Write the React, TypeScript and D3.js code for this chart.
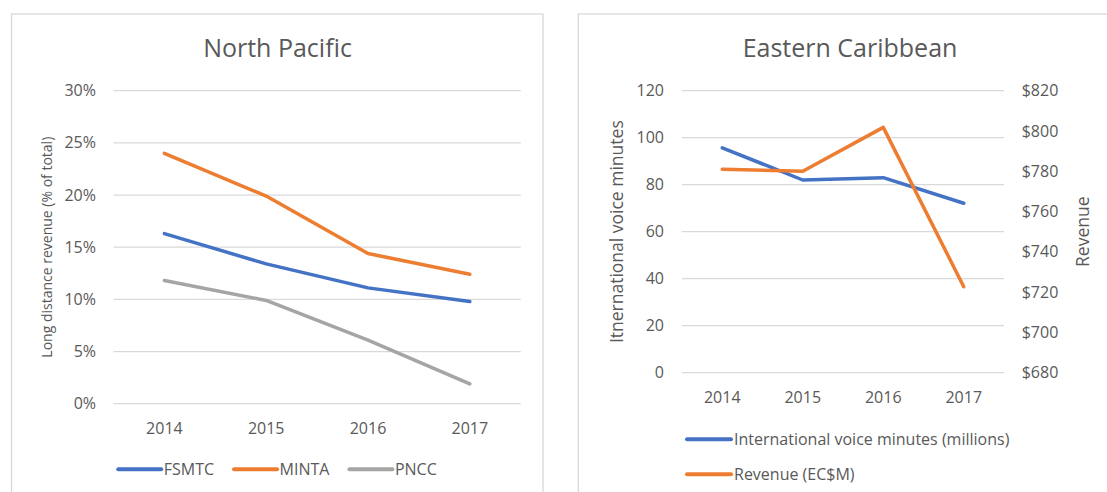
import React, { useEffect, useRef } from "react";
import * as d3 from "d3";

const years = ["2014", "2015", "2016", "2017"];

// North Pacific, long distance revenue as % of total
const fsmtc = [16.3, 13.4, 11.1, 9.8];
const minta = [24.0, 19.9, 14.4, 12.4];
const pncc = [11.8, 9.9, 6.1, 1.9];
const pctTicks = [0, 5, 10, 15, 20, 25, 30];

// Eastern Caribbean
const voiceMinutes = [95.7, 82.0, 83.0, 72.1];
const revenue = [781.0, 780.0, 801.8, 722.7];
const minuteTicks = [0, 20, 40, 60, 80, 100, 120];
const revenueTicks = [680, 700, 720, 740, 760, 780, 800, 820];

const BLUE = "#4472C4";
const ORANGE = "#ED7D31";
const GRAY = "#A5A5A5";
const TEXT = "#595959";
const GRID = "#D9D9D9";
const FONT = "'Open Sans', sans-serif";

export default function App() {
  const svgRef = useRef<SVGSVGElement>(null);

  useEffect(() => {
    document.body.style.margin = "0";
    const svg = d3.select(svgRef.current);
    svg.selectAll("*").remove();
    svg.attr("font-family", FONT);

    const styleAxis = (g: any) => {
      g.select(".domain").remove();
      g.selectAll("text").attr("fill", TEXT).attr("font-size", 16).attr("font-family", FONT);
    };

    // ---------- North Pacific ----------
    const left = svg.append("g");
    left.append("rect")
      .attr("x", 11.5).attr("y", 14).attr("width", 531.5).attr("height", 520)
      .attr("fill", "#fff").attr("stroke", GRID).attr("stroke-width", 1.3);

    left.append("text")
      .attr("x", 277.5).attr("y", 56.7)
      .attr("text-anchor", "middle").attr("font-size", 25).attr("fill", TEXT)
      .text("North Pacific");

    const x1 = d3.scaleBand().domain(years).range([113.5, 520.7]).padding(0);
    const y1 = d3.scaleLinear().domain([0, 30]).range([403.7, 90.7]);

    left.append("g").selectAll("line").data(pctTicks).join("line")
      .attr("x1", 113.5).attr("x2", 520.7)
      .attr("y1", d => y1(d)).attr("y2", d => y1(d))
      .attr("stroke", GRID).attr("stroke-width", 1.3);

    left.append("g")
      .attr("transform", "translate(113.5,0)")
      .call(d3.axisLeft(y1).tickValues(pctTicks).tickFormat(d => `${d}%`).tickSize(0).tickPadding(17.5))
      .call(styleAxis);

    left.append("g")
      .attr("transform", "translate(0,403.7)")
      .call(d3.axisBottom(x1).tickSize(0).tickPadding(19))
      .call(styleAxis);

    left.append("text")
      .attr("transform", "translate(52,247.2) rotate(-90)")
      .attr("text-anchor", "middle").attr("font-size", 14).attr("fill", TEXT)
      .text("Long distance revenue (% of total)");

    const line1 = d3.line<number>()
      .x((d, i) => x1(years[i])! + x1.bandwidth() / 2)
      .y(d => y1(d));

    const npSeries = [
      { name: "FSMTC", values: fsmtc, color: BLUE },
      { name: "MINTA", values: minta, color: ORANGE },
      { name: "PNCC", values: pncc, color: GRAY },
    ];

    npSeries.forEach(s => {
      left.append("path")
        .attr("d", line1(s.values))
        .attr("fill", "none").attr("stroke", s.color).attr("stroke-width", 3.5)
        .attr("stroke-linecap", "round").attr("stroke-linejoin", "round");
    });

    // legend, flowed then centered on the panel
    const leg1 = left.append("g");
    let cx = 0;
    npSeries.forEach(s => {
      const it = leg1.append("g").attr("transform", `translate(${cx},469.3)`);
      it.append("line").attr("x1", 0).attr("x2", 43).attr("y1", 0).attr("y2", 0)
        .attr("stroke", s.color).attr("stroke-width", 4).attr("stroke-linecap", "round");
      const t = it.append("text").attr("x", 45.5).attr("dy", "0.35em")
        .attr("font-size", 16).attr("fill", TEXT).text(s.name);
      const w = (t.node() as SVGTextElement).getComputedTextLength();
      cx += 45.5 + w + 20;
    });
    const legW = cx - 20;
    leg1.attr("transform", `translate(${277.5 - legW / 2},0)`);

    // ---------- Eastern Caribbean ----------
    const right = svg.append("g");
    right.append("rect")
      .attr("x", 578.3).attr("y", 14).attr("width", 600).attr("height", 520)
      .attr("fill", "#fff").attr("stroke", GRID).attr("stroke-width", 1.3);

    right.append("text")
      .attr("x", 850).attr("y", 56.7)
      .attr("text-anchor", "middle").attr("font-size", 25).attr("fill", TEXT)
      .text("Eastern Caribbean");

    const x2 = d3.scaleBand().domain(years).range([682, 1004]).padding(0);
    const y2 = d3.scaleLinear().domain([0, 120]).range([372.7, 90.7]);
    const y2r = d3.scaleLinear().domain([680, 820]).range([372.7, 90.7]);

    right.append("g").selectAll("line").data(minuteTicks).join("line")
      .attr("x1", 682).attr("x2", 1004)
      .attr("y1", d => y2(d)).attr("y2", d => y2(d))
      .attr("stroke", GRID).attr("stroke-width", 1.3);

    right.append("g")
      .attr("transform", "translate(682,0)")
      .call(d3.axisLeft(y2).tickValues(minuteTicks).tickSize(0).tickPadding(18))
      .call(styleAxis);

    right.append("g")
      .attr("transform", "translate(1004,0)")
      .call(d3.axisRight(y2r).tickValues(revenueTicks).tickFormat(d => `$${d}`).tickSize(0).tickPadding(17.7))
      .call(styleAxis);

    right.append("g")
      .attr("transform", "translate(0,372.7)")
      .call(d3.axisBottom(x2).tickSize(0).tickPadding(18.5))
      .call(styleAxis);

    right.append("text")
      .attr("transform", "translate(623,231.7) rotate(-90)")
      .attr("text-anchor", "middle").attr("font-size", 17.5).attr("fill", TEXT)
      .text("Itnernational voice minutes");

    right.append("text")
      .attr("transform", "translate(1089,231.7) rotate(-90)")
      .attr("text-anchor", "middle").attr("font-size", 17.5).attr("fill", TEXT)
      .text("Revenue");

    const mid2 = (i: number) => x2(years[i])! + x2.bandwidth() / 2;
    const lineMin = d3.line<number>().x((d, i) => mid2(i)).y(d => y2(d));
    const lineRev = d3.line<number>().x((d, i) => mid2(i)).y(d => y2r(d));

    right.append("path")
      .attr("d", lineMin(voiceMinutes))
      .attr("fill", "none").attr("stroke", BLUE).attr("stroke-width", 3.5)
      .attr("stroke-linecap", "round").attr("stroke-linejoin", "round");
    right.append("path")
      .attr("d", lineRev(revenue))
      .attr("fill", "none").attr("stroke", ORANGE).attr("stroke-width", 3.5)
      .attr("stroke-linecap", "round").attr("stroke-linejoin", "round");

    const ecLegend = [
      { name: "International voice minutes (millions)", color: BLUE, y: 439.3 },
      { name: "Revenue (EC$M)", color: ORANGE, y: 474.3 },
    ];
    ecLegend.forEach(s => {
      const it = right.append("g").attr("transform", `translate(687,${s.y})`);
      it.append("line").attr("x1", 0).attr("x2", 44).attr("y1", 0).attr("y2", 0)
        .attr("stroke", s.color).attr("stroke-width", 4).attr("stroke-linecap", "round");
      it.append("text").attr("x", 47).attr("dy", "0.35em")
        .attr("font-size", 16).attr("fill", TEXT).text(s.name);
    });
  }, []);

  return (
    <svg
      ref={svgRef}
      width={1107}
      height={492}
      style={{ position: "absolute", left: 0, top: 0, background: "#fff" }}
    />
  );
}
